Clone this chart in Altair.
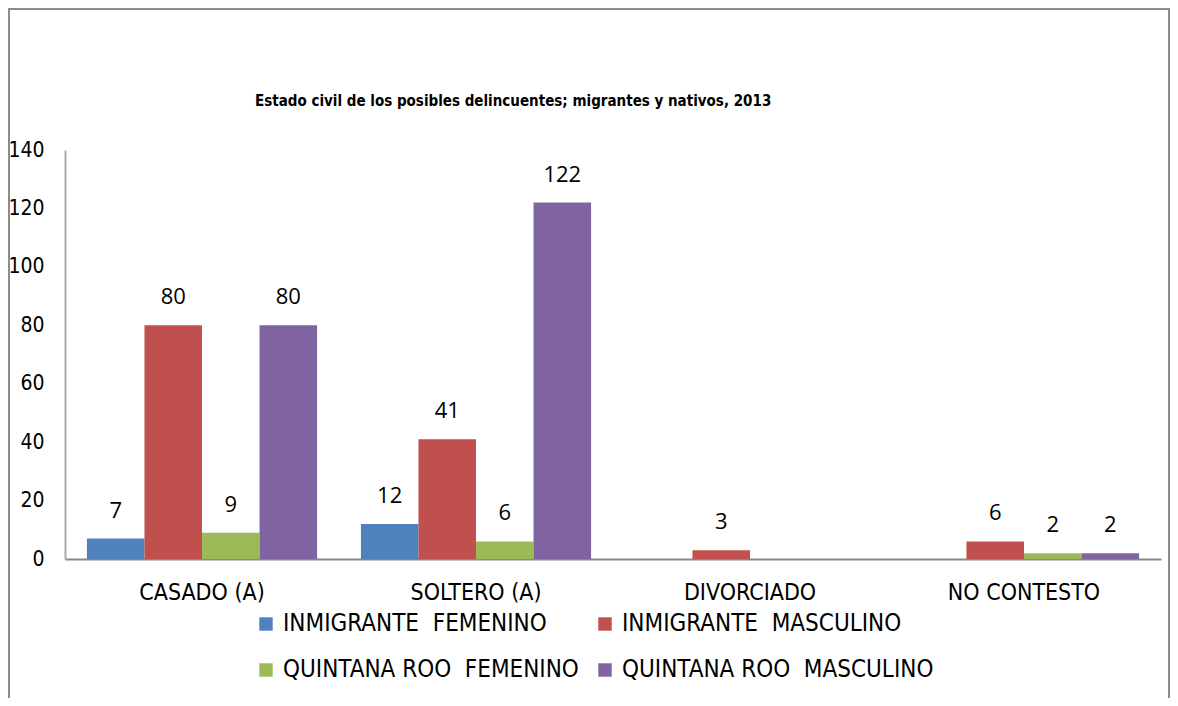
import altair as alt
import pandas as pd

categories = ["CASADO (A)", "SOLTERO (A)", "DIVORCIADO", "NO CONTESTO"]
series = [
    "INMIGRANTE \u00a0FEMENINO",
    "INMIGRANTE \u00a0MASCULINO",
    "QUINTANA ROO \u00a0FEMENINO",
    "QUINTANA ROO \u00a0MASCULINO",
]
inmigrante_femenino = [7, 12, 0, 0]
inmigrante_masculino = [80, 41, 3, 6]
quintana_roo_femenino = [9, 6, 0, 2]
quintana_roo_masculino = [80, 122, 0, 2]
colors = ["#4F81BD", "#C0504D", "#9BBB59", "#8064A2"]
title_text = "Estado civil de los posibles delincuentes; migrantes y nativos, 2013"

rows = []
for s, vals in zip(series, [inmigrante_femenino, inmigrante_masculino,
                            quintana_roo_femenino, quintana_roo_masculino]):
    for c, v in zip(categories, vals):
        if v > 0:
            rows.append({"categoria": c, "serie": s, "valor": v})
df = pd.DataFrame(rows)

# legend is filled column by column: order the colour domain so rows read
# INMIGRANTE F / INMIGRANTE M, then QUINTANA ROO F / QUINTANA ROO M
legend_order = [series[0], series[2], series[1], series[3]]
legend_colors = [colors[0], colors[2], colors[1], colors[3]]

NARROW = "'Liberation Sans Narrow', 'DejaVu Sans Condensed', 'Liberation Sans', sans-serif"
LABEL = "'Open Sans', sans-serif"

x_enc = alt.X("categoria:N", sort=categories, title=None,
              scale=alt.Scale(paddingInner=0.16, paddingOuter=0.08),
              axis=alt.Axis(labelAngle=0, ticks=False, domainColor="#888888",
                            domainWidth=2, labelFont=NARROW, labelFontSize=23,
                            labelColor="black", labelPadding=22))
y_enc = alt.Y("valor:Q", title=None,
              scale=alt.Scale(domain=[0, 140], nice=False),
              axis=alt.Axis(values=list(range(0, 141, 20)), ticks=False, grid=False,
                            domainColor="#aaaaaa", domainWidth=2, labelFont=NARROW,
                            labelFontSize=21, labelColor="black", labelPadding=21))
xo_enc = alt.XOffset("serie:N", sort=series, scale=alt.Scale(paddingInner=0, paddingOuter=0))

base = alt.Chart(df)

bars = base.mark_bar(strokeWidth=0).encode(
    x=x_enc, y=y_enc, xOffset=xo_enc,
    color=alt.Color("serie:N", title=None,
                    scale=alt.Scale(domain=legend_order, range=legend_colors),
                    legend=alt.Legend(orient="none", legendX=189, legendY=462,
                                      columns=2, columnPadding=14, rowPadding=22,
                                      symbolType="square", symbolSize=180,
                                      symbolStrokeWidth=0, labelOffset=5,
                                      labelFont=NARROW, labelFontSize=24,
                                      labelColor="black", labelLimit=600)),
)

labels = base.mark_text(baseline="bottom", dy=-16, font=LABEL, fontSize=22,
                        color="black").encode(
    x=x_enc, y=y_enc, xOffset=xo_enc, text="valor:Q"
)

title = alt.Chart(pd.DataFrame({"t": [title_text]})).mark_text(
    align="left", baseline="middle", font=NARROW, fontSize=15, fontWeight="bold",
    color="black"
).encode(text="t:N", x=alt.value(190), y=alt.value(-49))

border = alt.Chart(pd.DataFrame({"a": [0]})).mark_rect(
    fill=None, stroke="#8c8c8c", strokeWidth=2
).encode(x=alt.value(-56), x2=alt.value(1104), y=alt.value(-141), y2=alt.value(600))

chart = alt.layer(border, bars, labels, title).properties(
    width=1096, height=409,
    autosize=alt.AutoSizeParams(type="none"),
    padding={"left": 57, "top": 142, "right": 9, "bottom": 139},
).configure_view(strokeWidth=0)

chart.save("out.html", embed_options={"renderer": "svg", "actions": False})
